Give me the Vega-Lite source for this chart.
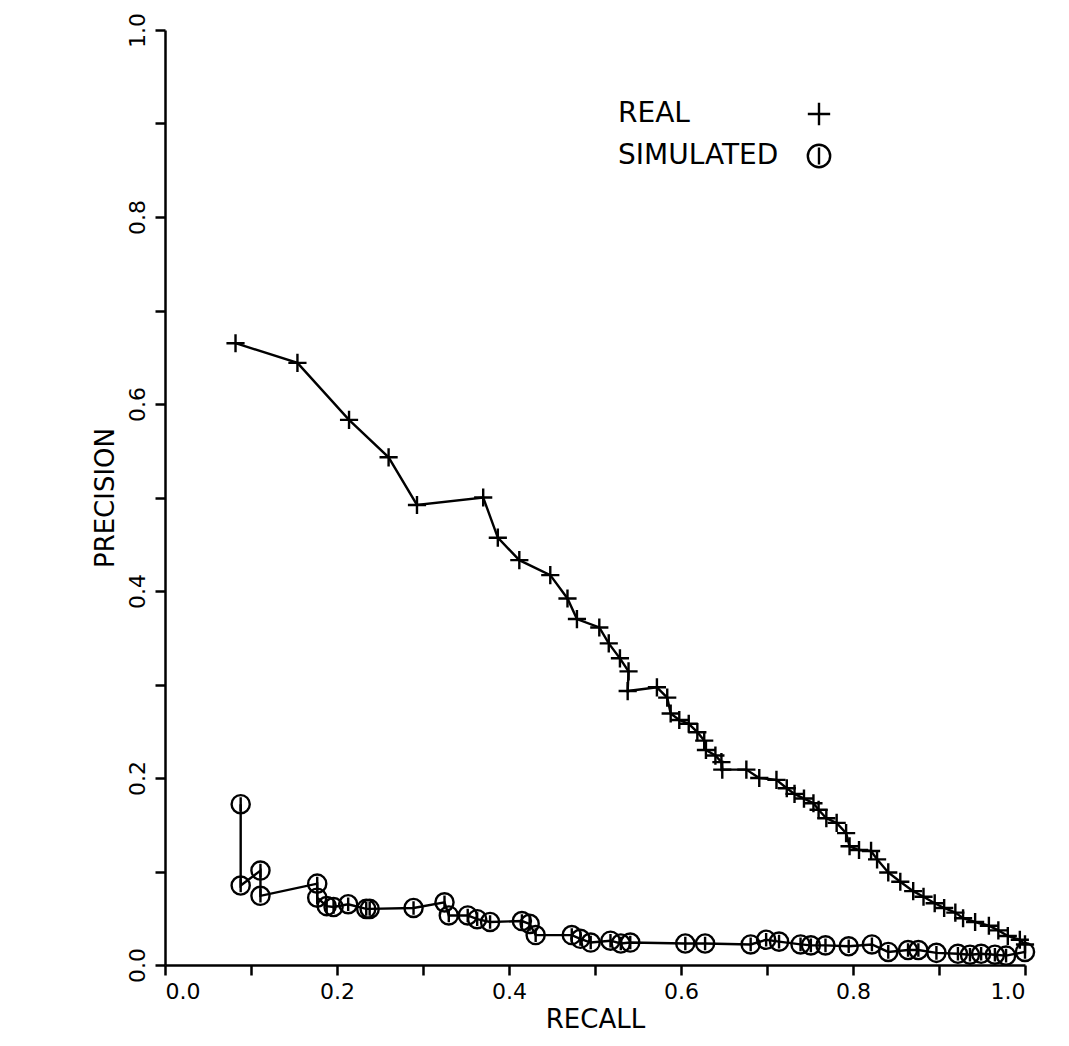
{
  "$schema": "https://vega.github.io/schema/vega-lite/v6.json",
  "autosize": {"type": "none"},
  "padding": {"left": 165, "top": 30, "right": 40, "bottom": 75},
  "width": 860,
  "height": 935,
  "background": "white",
  "config": {
    "view": {"stroke": null},
    "axis": {
      "grid": false,
      "domainColor": "black",
      "domainWidth": 2.5,
      "tickColor": "black",
      "tickWidth": 2.5,
      "tickSize": 10,
      "labelFont": "DejaVu Sans",
      "labelFontSize": 22,
      "labelColor": "black",
      "titleFont": "DejaVu Sans",
      "titleFontSize": 26,
      "titleFontWeight": "normal",
      "titleColor": "black"
    },
    "legend": {
      "labelFont": "DejaVu Sans",
      "labelFontSize": 26,
      "labelColor": "black"
    }
  },
  "data": {
    "values": [
      {"series": "REAL", "order": 1, "recall": 0.082, "precision": 0.665},
      {"series": "REAL", "order": 2, "recall": 0.154, "precision": 0.644},
      {"series": "REAL", "order": 3, "recall": 0.214, "precision": 0.583},
      {"series": "REAL", "order": 4, "recall": 0.26, "precision": 0.543},
      {"series": "REAL", "order": 5, "recall": 0.293, "precision": 0.492},
      {"series": "REAL", "order": 6, "recall": 0.37, "precision": 0.5},
      {"series": "REAL", "order": 7, "recall": 0.387, "precision": 0.457},
      {"series": "REAL", "order": 8, "recall": 0.412, "precision": 0.433},
      {"series": "REAL", "order": 9, "recall": 0.448, "precision": 0.417},
      {"series": "REAL", "order": 10, "recall": 0.468, "precision": 0.392},
      {"series": "REAL", "order": 11, "recall": 0.479, "precision": 0.37},
      {"series": "REAL", "order": 12, "recall": 0.505, "precision": 0.361},
      {"series": "REAL", "order": 13, "recall": 0.516, "precision": 0.344},
      {"series": "REAL", "order": 14, "recall": 0.529, "precision": 0.328},
      {"series": "REAL", "order": 15, "recall": 0.539, "precision": 0.314},
      {"series": "REAL", "order": 16, "recall": 0.538, "precision": 0.293},
      {"series": "REAL", "order": 17, "recall": 0.572, "precision": 0.297},
      {"series": "REAL", "order": 18, "recall": 0.584, "precision": 0.286},
      {"series": "REAL", "order": 19, "recall": 0.588, "precision": 0.269},
      {"series": "REAL", "order": 20, "recall": 0.598, "precision": 0.262},
      {"series": "REAL", "order": 21, "recall": 0.609, "precision": 0.258},
      {"series": "REAL", "order": 22, "recall": 0.619, "precision": 0.249},
      {"series": "REAL", "order": 23, "recall": 0.627, "precision": 0.24},
      {"series": "REAL", "order": 24, "recall": 0.629, "precision": 0.23},
      {"series": "REAL", "order": 25, "recall": 0.64, "precision": 0.224},
      {"series": "REAL", "order": 26, "recall": 0.647, "precision": 0.217},
      {"series": "REAL", "order": 27, "recall": 0.648, "precision": 0.209},
      {"series": "REAL", "order": 28, "recall": 0.676, "precision": 0.209},
      {"series": "REAL", "order": 29, "recall": 0.691, "precision": 0.2},
      {"series": "REAL", "order": 30, "recall": 0.711, "precision": 0.198},
      {"series": "REAL", "order": 31, "recall": 0.723, "precision": 0.189},
      {"series": "REAL", "order": 32, "recall": 0.732, "precision": 0.183},
      {"series": "REAL", "order": 33, "recall": 0.743, "precision": 0.178},
      {"series": "REAL", "order": 34, "recall": 0.754, "precision": 0.173},
      {"series": "REAL", "order": 35, "recall": 0.76, "precision": 0.166},
      {"series": "REAL", "order": 36, "recall": 0.769, "precision": 0.157},
      {"series": "REAL", "order": 37, "recall": 0.781, "precision": 0.152},
      {"series": "REAL", "order": 38, "recall": 0.792, "precision": 0.141},
      {"series": "REAL", "order": 39, "recall": 0.796, "precision": 0.127},
      {"series": "REAL", "order": 40, "recall": 0.807, "precision": 0.123},
      {"series": "REAL", "order": 41, "recall": 0.821, "precision": 0.122},
      {"series": "REAL", "order": 42, "recall": 0.828, "precision": 0.113},
      {"series": "REAL", "order": 43, "recall": 0.841, "precision": 0.099},
      {"series": "REAL", "order": 44, "recall": 0.855, "precision": 0.089},
      {"series": "REAL", "order": 45, "recall": 0.87, "precision": 0.079},
      {"series": "REAL", "order": 46, "recall": 0.882, "precision": 0.073},
      {"series": "REAL", "order": 47, "recall": 0.895, "precision": 0.066},
      {"series": "REAL", "order": 48, "recall": 0.906, "precision": 0.061},
      {"series": "REAL", "order": 49, "recall": 0.919, "precision": 0.056},
      {"series": "REAL", "order": 50, "recall": 0.928, "precision": 0.05},
      {"series": "REAL", "order": 51, "recall": 0.942, "precision": 0.046},
      {"series": "REAL", "order": 52, "recall": 0.958, "precision": 0.042},
      {"series": "REAL", "order": 53, "recall": 0.969, "precision": 0.037},
      {"series": "REAL", "order": 54, "recall": 0.98, "precision": 0.031},
      {"series": "REAL", "order": 55, "recall": 0.994, "precision": 0.027},
      {"series": "REAL", "order": 56, "recall": 1.0, "precision": 0.022},
      {"series": "SIMULATED", "order": 1, "recall": 0.088, "precision": 0.172},
      {"series": "SIMULATED", "order": 2, "recall": 0.088, "precision": 0.085},
      {"series": "SIMULATED", "order": 3, "recall": 0.111, "precision": 0.101},
      {"series": "SIMULATED", "order": 4, "recall": 0.111, "precision": 0.074},
      {"series": "SIMULATED", "order": 5, "recall": 0.177, "precision": 0.087},
      {"series": "SIMULATED", "order": 6, "recall": 0.177, "precision": 0.072},
      {"series": "SIMULATED", "order": 7, "recall": 0.188, "precision": 0.063},
      {"series": "SIMULATED", "order": 8, "recall": 0.196, "precision": 0.062},
      {"series": "SIMULATED", "order": 9, "recall": 0.213, "precision": 0.065},
      {"series": "SIMULATED", "order": 10, "recall": 0.234, "precision": 0.06},
      {"series": "SIMULATED", "order": 11, "recall": 0.238, "precision": 0.06},
      {"series": "SIMULATED", "order": 12, "recall": 0.289, "precision": 0.061},
      {"series": "SIMULATED", "order": 13, "recall": 0.325, "precision": 0.067},
      {"series": "SIMULATED", "order": 14, "recall": 0.33, "precision": 0.053},
      {"series": "SIMULATED", "order": 15, "recall": 0.352, "precision": 0.053},
      {"series": "SIMULATED", "order": 16, "recall": 0.363, "precision": 0.049},
      {"series": "SIMULATED", "order": 17, "recall": 0.378, "precision": 0.046},
      {"series": "SIMULATED", "order": 18, "recall": 0.415, "precision": 0.047},
      {"series": "SIMULATED", "order": 19, "recall": 0.424, "precision": 0.044},
      {"series": "SIMULATED", "order": 20, "recall": 0.431, "precision": 0.032},
      {"series": "SIMULATED", "order": 21, "recall": 0.473, "precision": 0.032},
      {"series": "SIMULATED", "order": 22, "recall": 0.483, "precision": 0.028},
      {"series": "SIMULATED", "order": 23, "recall": 0.495, "precision": 0.024},
      {"series": "SIMULATED", "order": 24, "recall": 0.518, "precision": 0.026},
      {"series": "SIMULATED", "order": 25, "recall": 0.53, "precision": 0.023},
      {"series": "SIMULATED", "order": 26, "recall": 0.541, "precision": 0.024},
      {"series": "SIMULATED", "order": 27, "recall": 0.605, "precision": 0.023},
      {"series": "SIMULATED", "order": 28, "recall": 0.628, "precision": 0.023},
      {"series": "SIMULATED", "order": 29, "recall": 0.681, "precision": 0.022},
      {"series": "SIMULATED", "order": 30, "recall": 0.699, "precision": 0.027},
      {"series": "SIMULATED", "order": 31, "recall": 0.714, "precision": 0.025},
      {"series": "SIMULATED", "order": 32, "recall": 0.739, "precision": 0.022},
      {"series": "SIMULATED", "order": 33, "recall": 0.751, "precision": 0.021},
      {"series": "SIMULATED", "order": 34, "recall": 0.768, "precision": 0.021},
      {"series": "SIMULATED", "order": 35, "recall": 0.795, "precision": 0.02},
      {"series": "SIMULATED", "order": 36, "recall": 0.822, "precision": 0.022},
      {"series": "SIMULATED", "order": 37, "recall": 0.841, "precision": 0.014},
      {"series": "SIMULATED", "order": 38, "recall": 0.864, "precision": 0.016},
      {"series": "SIMULATED", "order": 39, "recall": 0.876, "precision": 0.016},
      {"series": "SIMULATED", "order": 40, "recall": 0.897, "precision": 0.013},
      {"series": "SIMULATED", "order": 41, "recall": 0.922, "precision": 0.012},
      {"series": "SIMULATED", "order": 42, "recall": 0.936, "precision": 0.011},
      {"series": "SIMULATED", "order": 43, "recall": 0.949, "precision": 0.012},
      {"series": "SIMULATED", "order": 44, "recall": 0.965, "precision": 0.011},
      {"series": "SIMULATED", "order": 45, "recall": 0.978, "precision": 0.01},
      {"series": "SIMULATED", "order": 46, "recall": 1.0, "precision": 0.014}
    ]
  },
  "encoding": {
    "x": {
      "field": "recall",
      "type": "quantitative",
      "scale": {"domain": [0, 1], "nice": false, "zero": true},
      "axis": {
        "title": "RECALL",
        "values": [0, 0.1, 0.2, 0.3, 0.4, 0.5, 0.6, 0.7, 0.8, 0.9, 1.0],
        "labelExpr": "round(datum.value * 10) % 2 == 0 ? format(datum.value, '.1f') : ''",
        "labelPadding": 6,
        "titlePadding": 4
      }
    },
    "y": {
      "field": "precision",
      "type": "quantitative",
      "scale": {"domain": [0, 1], "nice": false, "zero": true},
      "axis": {
        "title": "PRECISION",
        "values": [0, 0.1, 0.2, 0.3, 0.4, 0.5, 0.6, 0.7, 0.8, 0.9, 1.0],
        "labelExpr": "round(datum.value * 10) % 2 == 0 ? format(datum.value, '.1f') : ''",
        "labelAngle": -90,
        "labelAlign": "center",
        "labelBaseline": "bottom",
        "labelPadding": 6,
        "titlePadding": 8
      }
    }
  },
  "layer": [
    {
      "mark": {"type": "line", "color": "black", "strokeWidth": 2.4},
      "encoding": {
        "detail": {"field": "series"},
        "order": {"field": "order", "type": "quantitative"}
      }
    },
    {
      "mark": {"type": "point", "filled": false, "color": "black", "strokeWidth": 2.4, "opacity": 1},
      "encoding": {
        "shape": {
          "field": "series",
          "type": "nominal",
          "scale": {
            "domain": ["REAL", "SIMULATED"],
            "range": [
              "M-1,0L1,0M0,-1L0,1",
              "M0,-1A1,1 0 1,1 0,1A1,1 0 1,1 0,-1ZM0,-0.75L0,0.75"
            ]
          },
          "legend": {
            "title": null,
            "orient": "none",
            "legendX": 640,
            "legendY": 70,
            "symbolSize": 500,
            "symbolStrokeWidth": 2.4,
            "symbolStrokeColor": "black",
            "symbolFillColor": "transparent",
            "labelFontSize": 28,
            "labelAlign": "left",
            "labelLimit": 400,
            "labelOffset": -215,
            "rowPadding": 10
          }
        },
        "size": {"value": 330}
      }
    }
  ]
}
